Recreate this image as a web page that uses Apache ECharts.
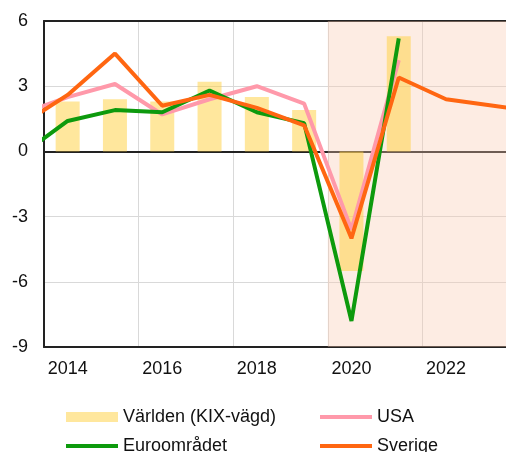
<!DOCTYPE html>
<html>
<head>
<meta charset="utf-8">
<script src="https://cdn.jsdelivr.net/npm/echarts@6/dist/echarts.min.js"></script>
<style>
  html, body { margin: 0; padding: 0; background: #fff; overflow: hidden; }
  #chart { width: 506px; height: 452px; }
</style>
</head>
<body>
<div id="chart"></div>
<script>
// BNP-tillväxt, procent
const years = [2013, 2014, 2015, 2016, 2017, 2018, 2019, 2020, 2021, 2022, 2023, 2024]
const varlden = [null, 2.3, 2.4, 2.3, 3.2, 2.5, 1.9, -5.5, 5.3]
const euro = [-0.2, 1.4, 1.9, 1.8, 2.8, 1.8, 1.3, -7.8, 5.2]
const usa = [1.7, 2.5, 3.1, 1.7, 2.4, 3.0, 2.2, -3.6, 4.2]
const sverige = [1.2, 2.6, 4.5, 2.1, 2.6, 2.0, 1.2, -4.0, 3.4, 2.4, 2.1, 1.8]
const yTicks = [-9, -3, 0, 3, 6]
const forecastStart = 2019.5

const font = "'Liberation Sans', Arial, sans-serif"
const gridWidth = 462
const xMin = 2013.5
const xMax = 2013.5 + gridWidth / 47.3

const pairs = (vals) => vals.map((v, i) => [years[i], v]).filter(p => p[1] !== null)

const chart = echarts.init(document.getElementById('chart'))

const lineSeries = (name, vals, color) => ({
  name,
  type: 'line',
  data: pairs(vals),
  symbol: 'none',
  clip: true,
  lineStyle: { width: 4, color },
  itemStyle: { color },
  z: 3
})

const axisLineStyle = { color: '#222', width: 2 }

const legendBase = {
  orient: 'vertical',
  height: 100,
  itemWidth: 52,
  itemHeight: 4,
  itemGap: 11,
  icon: 'rect',
  textStyle: { fontSize: 18, color: '#111', fontFamily: font }
}

const option = {
  animation: false,
  textStyle: { fontFamily: font },
  grid: {
    left: 44,
    top: 21,
    right: 0,
    bottom: 105,
    outerBoundsMode: 'none'
  },
  legend: [
    Object.assign({}, legendBase, { left: 61, top: 403, itemHeight: 10, data: ['Världen (KIX-vägd)'] }),
    Object.assign({}, legendBase, { left: 61, top: 432, data: ['Euroområdet'] }),
    Object.assign({}, legendBase, { left: 315, top: 403, data: ['USA', 'Sverige'] })
  ],
  xAxis: [
    {
      // gridlinjer + nollinje
      type: 'value',
      min: xMin,
      max: xMax,
      interval: 2,
      axisLine: { show: true, onZero: true, lineStyle: axisLineStyle },
      axisTick: { show: false },
      axisLabel: { show: false },
      splitLine: { show: true, lineStyle: { color: '#d9d9d9', width: 1 } }
    },
    {
      // årtal
      type: 'value',
      position: 'bottom',
      min: xMin,
      max: xMax,
      interval: 0.5,
      axisLine: { show: true, onZero: false, lineStyle: axisLineStyle },
      axisTick: { show: false },
      splitLine: { show: false },
      axisLabel: {
        show: true,
        margin: 13,
        fontSize: 18,
        color: '#111',
        fontFamily: font,
        formatter: (v) => (Number.isInteger(v) && v % 2 === 0) ? String(v) : ''
      }
    },
    {
      // ram upptill
      type: 'value',
      position: 'top',
      min: xMin,
      max: xMax,
      axisLine: { show: true, onZero: false, lineStyle: axisLineStyle },
      axisTick: { show: false },
      axisLabel: { show: false },
      splitLine: { show: false }
    }
  ],
  yAxis: {
    type: 'value',
    min: yTicks[0],
    max: yTicks[yTicks.length - 1],
    interval: 3,
    axisLine: { show: true, onZero: false, lineStyle: axisLineStyle },
    axisTick: { show: false },
    axisLabel: { margin: 16, fontSize: 18, color: '#111', fontFamily: font },
    splitLine: { show: true, lineStyle: { color: '#d9d9d9', width: 1 } }
  },
  series: [
    {
      name: 'Världen (KIX-vägd)',
      type: 'bar',
      data: pairs(varlden),
      barWidth: 24,
      itemStyle: { color: 'rgba(255, 208, 60, 0.5)' },
      z: 2,
      markArea: {
        silent: true,
        itemStyle: { color: 'rgba(250, 200, 175, 0.35)' },
        data: [[{ xAxis: forecastStart }, { xAxis: xMax }]]
      }
    },
    lineSeries('USA', usa, '#ff99aa'),
    lineSeries('Euroområdet', euro, '#0d9a0d'),
    lineSeries('Sverige', sverige, '#ff6611')
  ]
}

chart.setOption(option)
</script>
</body>
</html>
